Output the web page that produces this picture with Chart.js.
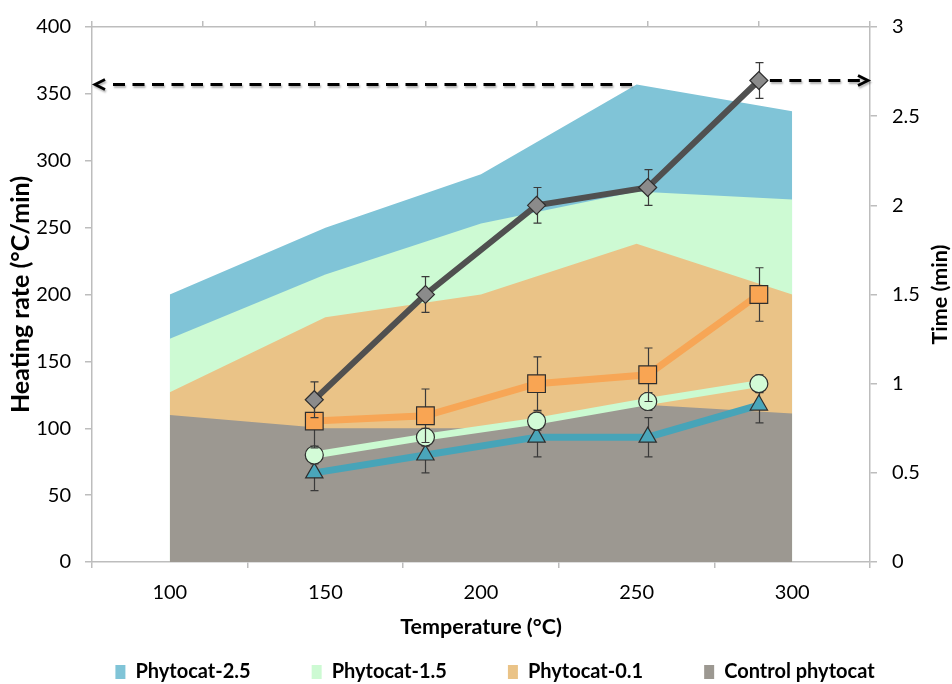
<!DOCTYPE html>
<html>
<head>
<meta charset="utf-8">
<title>Heating rate and time vs temperature</title>
<script src="https://cdn.jsdelivr.net/npm/chart.js@4.4.1/dist/chart.umd.min.js"></script>
<style>
  html, body { margin: 0; padding: 0; background: #ffffff; }
  #wrap { width: 952px; height: 684px; }
</style>
</head>
<body>
<div id="wrap"><canvas id="chart" width="952" height="684"></canvas></div>
<script>
// ---- data -------------------------------------------------------------
const temperatures = ['100', '150', '200', '250', '300'];

// heating rate (°C/min), left axis, drawn as areas
const heatRate25      = [200, 250, 290, 357, 337];
const heatRate15      = [167, 215, 253, 277, 271];
const heatRate01      = [127, 183, 200, 238, 200];
const heatRateControl = [110, 100, 100, 118, 111];

// time (min), right axis, drawn as lines on the secondary horizontal axis
const timeSlots      = [2, 3, 4, 5, 6];
const timeControl    = [0.91, 1.5, 2.0, 2.1, 2.7];
const timeControlErr = [0.1, 0.1, 0.1, 0.1, 0.1];
const time01         = [0.79, 0.82, 1.0, 1.05, 1.5];
const time01Err      = [0.15, 0.15, 0.15, 0.15, 0.15];
const time15         = [0.6, 0.7, 0.79, 0.9, 1.0];
const time15Err      = [0.05, 0.05, 0.05, 0.05, 0.05];
const time25         = [0.5, 0.6, 0.7, 0.7, 0.88];
const time25Err      = [0.1, 0.1, 0.11, 0.11, 0.1];

const heatTicks = [0, 50, 100, 150, 200, 250, 300, 350, 400];
const timeTicks = [0, 0.5, 1, 1.5, 2, 2.5, 3];
const slotTicks = [0, 1, 2, 3, 4, 5, 6, 7];

const xTitle  = 'Temperature (°C)';
const yTitle  = 'Heating rate (°C/min)';
const y1Title = 'Time (min)';

// ---- styling ----------------------------------------------------------
const FONT = 'Lato, "Open Sans", "DejaVu Sans", sans-serif';
const AXIS_GREY = '#bdbdbd';
const LEGEND_PAD = 61;
Chart.defaults.font.family = FONT;
Chart.defaults.color = '#000000';

function areaSet(label, values, color, order) {
  return {
    type: 'line', label, data: values,
    xAxisID: 'x', yAxisID: 'y',
    backgroundColor: color, borderColor: color, borderWidth: 0,
    fill: 'origin', pointRadius: 0, tension: 0, order
  };
}

function timeSet(label, values, errors, lineColor, fillColor, pointStyle, radius, lineWidth, order) {
  return {
    type: 'line', label,
    data: timeSlots.map((s, i) => ({ x: s, y: values[i] })),
    errors,
    xAxisID: 'x2', yAxisID: 'y1',
    borderColor: lineColor, borderWidth: lineWidth, fill: false, tension: 0,
    pointStyle, pointRadius: radius, pointHoverRadius: radius,
    pointBackgroundColor: fillColor, pointBorderColor: '#2e2e2e', pointBorderWidth: 1.2,
    order
  };
}

// vertical error bars, painted just before each line so its markers sit on top
const errorBars = {
  id: 'errorBars',
  beforeDatasetDraw(chart, args) {
    const ds = chart.data.datasets[args.index];
    if (!ds.errors) return;
    const meta = args.meta;
    const yScale = chart.scales[meta.yAxisID];
    const ctx = chart.ctx;
    ctx.save();
    ctx.strokeStyle = '#3a3a3a';
    ctx.lineWidth = 1.2;
    meta.data.forEach((pt, i) => {
      const v = ds.data[i].y, e = ds.errors[i];
      const top = yScale.getPixelForValue(v + e);
      const bot = yScale.getPixelForValue(v - e);
      const x = Math.round(pt.x) + 0.5;
      ctx.beginPath();
      ctx.moveTo(x, top); ctx.lineTo(x, bot);
      ctx.moveTo(x - 4, top); ctx.lineTo(x + 4, top);
      ctx.moveTo(x - 4, bot); ctx.lineTo(x + 4, bot);
      ctx.stroke();
    });
    ctx.restore();
  }
};

// dashed arrows from the peak values to their axes
const peakArrows = {
  id: 'peakArrows',
  afterDatasetsDraw(chart) {
    const { ctx, chartArea, scales } = chart;
    const peak = Math.max(...heatRate25);
    const peakIdx = heatRate25.indexOf(peak);
    const lx = scales.x.getPixelForValue(peakIdx);
    const ly = scales.y.getPixelForValue(peak);
    const last = timeControl.length - 1;
    const rx = scales.x2.getPixelForValue(timeSlots[last]);
    const ry = scales.y1.getPixelForValue(timeControl[last]);

    ctx.save();
    ctx.strokeStyle = '#000000';
    ctx.shadowColor = 'rgba(0,0,0,0.3)';
    ctx.shadowBlur = 2;
    ctx.shadowOffsetX = 1;
    ctx.shadowOffsetY = 2;
    ctx.lineWidth = 3.2;

    // left arrow (heating rate axis)
    const lTip = chartArea.left + 3;
    ctx.setLineDash([12, 7.5]);
    ctx.beginPath();
    ctx.moveTo(lTip + 18, ly); ctx.lineTo(lx - 2, ly);
    ctx.stroke();
    ctx.setLineDash([]);
    ctx.lineWidth = 2.8;
    ctx.beginPath();
    ctx.moveTo(lTip + 10, ly - 5); ctx.lineTo(lTip, ly); ctx.lineTo(lTip + 10, ly + 5);
    ctx.stroke();

    // right arrow (time axis)
    const rTip = chartArea.right - 2;
    ctx.lineWidth = 3.2;
    ctx.setLineDash([12, 7.5]);
    ctx.beginPath();
    ctx.moveTo(rx + 11, ry); ctx.lineTo(rTip - 6, ry);
    ctx.stroke();
    ctx.setLineDash([]);
    ctx.lineWidth = 2.8;
    ctx.beginPath();
    ctx.moveTo(rTip - 10, ry - 5); ctx.lineTo(rTip, ry); ctx.lineTo(rTip - 10, ry + 5);
    ctx.stroke();
    ctx.restore();
  }
};

// right-hand axis title, reading bottom to top
const rightTitle = {
  id: 'rightTitle',
  afterDraw(chart) {
    const { ctx, chartArea } = chart;
    ctx.save();
    ctx.translate(940, (chartArea.top + chartArea.bottom) / 2);
    ctx.rotate(-Math.PI / 2);
    ctx.font = 'bold 21.5px ' + FONT;
    ctx.fillStyle = '#000000';
    ctx.textAlign = 'center';
    ctx.textBaseline = 'middle';
    ctx.fillText(y1Title, 0, 0);
    ctx.restore();
  }
};

// place the legend row under the axis title
const legendPlacement = {
  id: 'legendPlacement',
  afterLayout(chart) {
    const lg = chart.legend;
    const h = lg.bottom - lg.top;
    lg.top = 672 - LEGEND_PAD - 10;
    lg.bottom = lg.top + h;
    lg.left += 19; lg.right += 19;
  }
};

const tickGrid = {
  display: true, drawOnChartArea: false, color: AXIS_GREY,
  lineWidth: 1.5, tickLength: 7
};
const axisBorder = { display: true, color: AXIS_GREY, width: 1.5 };

new Chart(document.getElementById('chart'), {
  type: 'line',
  data: {
    labels: temperatures,
    datasets: [
      areaSet('Phytocat-2.5', heatRate25, '#80c4d7', 13),
      areaSet('Phytocat-1.5', heatRate15, '#cdfad3', 12),
      areaSet('Phytocat-0.1', heatRate01, '#eac387', 11),
      areaSet('Control phytocat', heatRateControl, '#9c9891', 10),
      timeSet('Phytocat-2.5 time', time25, time25Err, '#47a4b8', '#4aa6ba', 'triangle', 10, 7, 3),
      timeSet('Phytocat-1.5 time', time15, time15Err, '#cbfad1', '#d3fbd7', 'circle', 9, 7, 2),
      timeSet('Phytocat-0.1 time', time01, time01Err, '#f7a656', '#f9a553', 'rect', 12.5, 7, 1),
      timeSet('Control phytocat time', timeControl, timeControlErr, '#505050', '#8b8b8b', 'rectRot', 9, 6, 0)
    ]
  },
  options: {
    responsive: false,
    animation: false,
    layout: { padding: { top: 0, left: 0, right: 0, bottom: -15 } },
    plugins: {
      tooltip: { enabled: false },
      legend: {
        position: 'bottom',
        align: 'center',
        labels: {
          boxWidth: 10, boxHeight: 14, padding: LEGEND_PAD, color: '#000000',
          font: { size: 20, weight: 'bold', family: FONT },
          filter: (item) => item.datasetIndex < 4,
          sort: (a, b) => a.datasetIndex - b.datasetIndex
        }
      }
    },
    scales: {
      x: {
        type: 'category', position: 'bottom', offset: true,
        grid: { ...tickGrid, offset: true, tickLength: 6 },
        border: axisBorder,
        ticks: { font: { size: 20 }, padding: 13, maxRotation: 0, autoSkip: false },
        title: { display: true, text: xTitle, font: { size: 21.5, weight: 'bold' }, padding: { top: 0, bottom: -32 } },
        afterFit(s) { s.height = 46; }
      },
      x2: {
        type: 'linear', position: 'top', min: 0, max: 7,
        afterBuildTicks(s) { s.ticks = slotTicks.map(v => ({ value: v })); },
        ticks: { display: false },
        grid: { ...tickGrid, tickLength: 6 },
        border: axisBorder,
        afterFit(s) { s.height = 26; }
      },
      y: {
        type: 'linear', position: 'left', min: 0, max: 400,
        afterBuildTicks(s) { s.ticks = heatTicks.map(v => ({ value: v })); },
        ticks: { font: { size: 20 }, padding: 14, callback: (v) => String(v) },
        grid: tickGrid,
        border: axisBorder,
        title: { display: true, text: yTitle, font: { size: 25, weight: 'bold' }, padding: { top: 6, bottom: 0 } },
        afterFit(s) { s.width = 92; }
      },
      y1: {
        type: 'linear', position: 'right', min: 0, max: 3,
        afterBuildTicks(s) { s.ticks = timeTicks.map(v => ({ value: v })); },
        ticks: { font: { size: 20 }, padding: 15, callback: (v) => String(v) },
        grid: tickGrid,
        border: axisBorder,
        afterFit(s) { s.width = 82; }
      }
    }
  },
  plugins: [errorBars, peakArrows, rightTitle, legendPlacement]
});
</script>
</body>
</html>
